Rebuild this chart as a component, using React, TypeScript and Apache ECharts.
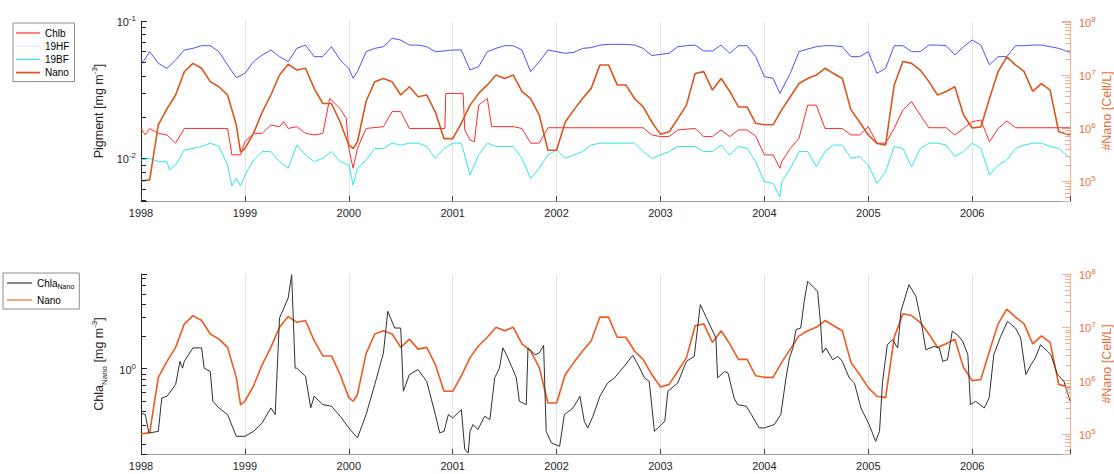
import React, { useEffect, useRef } from 'react';
import * as echarts from 'echarts';

// x = months since January 1998
const yearLabels = ['1998', '1999', '2000', '2001', '2002', '2003', '2004', '2005', '2006'];
const X_MAX = 107.3;

const chlb: [number, number][] = [
  [0, 0.0165], [0.5, 0.0148], [1, 0.0165], [2, 0.0152], [3, 0.0148], [4, 0.0129], [5, 0.0165], [10, 0.0165],
  [10.5, 0.0106], [11.5, 0.0106], [12, 0.0132], [13, 0.0152], [14, 0.0152], [15, 0.0175], [16, 0.017], [16.5, 0.0185],
  [17, 0.0165], [18, 0.017], [19, 0.0152], [20, 0.0148], [21, 0.0152], [21.8, 0.0273], [23, 0.023], [23.7, 0.0196],
  [24, 0.0118], [24.5, 0.00846], [25, 0.0118], [26, 0.0165], [28, 0.017], [29, 0.0219], [30, 0.0219], [31, 0.0165],
  [35.1, 0.0165], [35.2, 0.0297], [37.2, 0.0297], [37.4, 0.0161], [38, 0.0136], [38.5, 0.0132], [39, 0.0244], [40, 0.0273],
  [40.5, 0.017], [43, 0.017], [44, 0.0165], [45, 0.0129], [46, 0.0129], [47, 0.0167], [58, 0.0167], [59, 0.0148],
  [60, 0.0144], [61, 0.0144], [62, 0.0161], [64, 0.0165], [65, 0.0144], [66, 0.0144], [67, 0.0161], [68, 0.0144],
  [69, 0.0161], [70, 0.0161], [71, 0.0145], [72, 0.0106], [73, 0.0106], [73.8, 0.00846], [74, 0.00946], [75, 0.0118],
  [76, 0.014], [77, 0.0244], [78, 0.0244], [79, 0.0165], [81, 0.0165], [82, 0.0148], [83, 0.0148], [84, 0.017],
  [85, 0.0129], [86, 0.0129], [87, 0.0165], [88, 0.0225], [89, 0.0259], [90, 0.0207], [91, 0.0167], [93, 0.0167],
  [94, 0.0148], [95, 0.0165], [96, 0.0185], [97, 0.019], [98, 0.0132], [99, 0.0165], [100, 0.0187], [101, 0.0167],
  [107.3, 0.0167],
];

const hf19: [number, number][] = [
  [0, 0.0479], [1, 0.0598], [2, 0.0492], [3, 0.0452], [4, 0.052], [5, 0.0615], [6, 0.0632], [7, 0.0661], [8, 0.0661],
  [9, 0.0598], [10, 0.0479], [11, 0.0387], [12, 0.0416], [13, 0.0506], [14, 0.0566], [15, 0.0615], [16, 0.055],
  [17, 0.0506], [18, 0.0632], [19, 0.0668], [20, 0.055], [21, 0.055], [22, 0.065], [23, 0.052], [24, 0.0452],
  [24.5, 0.0383], [25, 0.0428], [26, 0.0598], [27, 0.0632], [28, 0.065], [29, 0.0748], [30, 0.0727], [31, 0.0668],
  [32, 0.0668], [33, 0.065], [34, 0.0598], [35, 0.0605], [36, 0.0615], [37, 0.0615], [38, 0.044], [39, 0.0465],
  [40, 0.0598], [41, 0.0632], [42, 0.0661], [43, 0.0661], [44, 0.0615], [45, 0.0428], [46, 0.0506], [47, 0.0615],
  [48, 0.0598], [49, 0.0582], [50, 0.0591], [51, 0.0632], [52, 0.064], [53, 0.0668], [54, 0.0676], [56, 0.0676],
  [57, 0.0668], [58, 0.0632], [59, 0.056], [60, 0.0572], [61, 0.0582], [62, 0.065], [63, 0.0661], [64, 0.0668],
  [65, 0.0605], [66, 0.0605], [67, 0.0668], [68, 0.0582], [69, 0.0661], [70, 0.0661], [71, 0.055], [72, 0.0393],
  [73, 0.0383], [73.8, 0.0297], [74, 0.0315], [75, 0.0416], [76, 0.0598], [77, 0.0625], [78, 0.065], [79, 0.0661],
  [80, 0.0661], [81, 0.065], [82, 0.055], [83, 0.055], [84, 0.0598], [85, 0.0416], [86, 0.0452], [87, 0.0661],
  [88, 0.0661], [89, 0.0598], [90, 0.0598], [91, 0.0668], [92, 0.0668], [93, 0.0661], [94, 0.0566], [95, 0.065],
  [96, 0.0727], [97, 0.0668], [98, 0.0479], [99, 0.055], [100, 0.055], [101, 0.0661], [102, 0.0661], [103, 0.0668],
  [104, 0.0668], [105, 0.065], [106, 0.0632], [107.3, 0.0591],
];

const bf19: [number, number][] = [
  [0, 0.0097], [1, 0.01], [2, 0.00946], [3, 0.00946], [3.3, 0.00822], [4, 0.00894], [5, 0.0115], [6, 0.0118],
  [7, 0.0122], [8, 0.0129], [9, 0.0122], [10, 0.00894], [10.5, 0.0063], [11, 0.00715], [11.5, 0.0063], [12, 0.00756],
  [13, 0.0097], [14, 0.0112], [15, 0.0112], [16, 0.00946], [17, 0.00846], [18, 0.0125], [19, 0.0106], [20, 0.00946],
  [21, 0.01], [22, 0.0112], [23, 0.00946], [24, 0.00894], [24.5, 0.0064], [25, 0.00846], [26, 0.0097], [27, 0.0118],
  [28, 0.0118], [29, 0.0129], [30, 0.0125], [31, 0.0129], [32, 0.0129], [33, 0.0122], [34, 0.01], [35, 0.0118],
  [36, 0.0129], [37, 0.0129], [38, 0.00756], [39, 0.0106], [40, 0.0129], [41, 0.0122], [43, 0.0122], [44, 0.01],
  [45, 0.00715], [46, 0.00846], [47, 0.0106], [48, 0.0115], [49, 0.01], [50, 0.0106], [51, 0.0112], [52, 0.0125],
  [53, 0.0129], [57, 0.0129], [58, 0.0112], [59, 0.01], [60, 0.0106], [61, 0.0112], [62, 0.0122], [64, 0.0122],
  [65, 0.0112], [66, 0.0112], [67, 0.0125], [68, 0.0106], [69, 0.0122], [70, 0.0118], [71, 0.00946], [72, 0.00676],
  [73, 0.00658], [73.8, 0.00526], [74, 0.00676], [75, 0.00846], [76, 0.0112], [77, 0.0112], [78, 0.0087], [79, 0.0112],
  [80, 0.0125], [81, 0.0125], [82, 0.01], [83, 0.0103], [84, 0.00894], [85, 0.00658], [86, 0.008], [87, 0.0122],
  [88, 0.0118], [89, 0.0087], [90, 0.0118], [91, 0.0129], [92, 0.0129], [93, 0.0125], [94, 0.0103], [95, 0.0112],
  [96, 0.0129], [97, 0.0118], [98, 0.00756], [99, 0.00894], [100, 0.0097], [101, 0.0118], [102, 0.0125], [103, 0.0129],
  [104, 0.0129], [105, 0.0122], [106, 0.0118], [107.3, 0.01],
];

const nano: [number, number][] = [
  [0, 1.0e5], [1, 1.05e5], [2, 1.15e6], [3, 2.3e6], [4, 4.2e6], [5, 1.15e7], [6, 1.66e7], [7, 1.34e7], [8, 7.5e6],
  [9, 6.0e6], [10, 4.2e6], [11, 1.15e6], [11.5, 3.5e5], [12, 4.1e5], [13, 8.0e5], [14, 2.0e6], [15, 4.2e6],
  [16, 1.0e7], [17, 1.6e7], [18, 1.24e7], [19, 1.34e7], [20, 5.6e6], [21, 2.9e6], [22, 2.9e6], [23, 1.3e6],
  [24, 4.8e5], [24.5, 4.1e5], [25, 5.5e5], [26, 3.2e6], [27, 7.5e6], [28, 8.6e6], [29, 7.5e6], [30, 4.2e6],
  [31, 6.0e6], [32, 3.9e6], [33, 4.2e6], [34, 2.0e6], [35, 6.3e5], [36, 6.3e5], [37, 1.23e6], [38, 2.7e6],
  [39, 4.5e6], [40, 6.5e6], [41, 1.0e7], [42, 8.6e6], [43, 1.0e7], [44, 4.9e6], [45, 3.6e6], [46, 1.76e6],
  [47, 3.8e5], [48, 3.8e5], [49, 1.3e6], [50, 2.2e6], [51, 3.6e6], [52, 5.6e6], [53, 1.55e7], [54, 1.55e7],
  [55, 6.5e6], [56, 6.5e6], [57, 3.6e6], [58, 2.5e6], [59, 1.3e6], [60, 7.6e5], [61, 8.5e5], [62, 1.5e6],
  [63, 2.7e6], [64, 1.07e7], [65, 1.16e7], [66, 5.2e6], [67, 8.6e6], [68, 4.9e6], [69, 2.5e6], [70, 2.5e6],
  [71, 1.23e6], [72, 1.15e6], [73, 1.15e6], [74, 2.2e6], [75, 3.9e6], [76, 6.9e6], [77, 8.6e6], [78, 1.0e7],
  [79, 1.34e7], [80, 1.07e7], [81, 8.6e6], [82, 2.2e6], [83, 1.3e6], [84, 7.4e5], [85, 5.1e5], [86, 4.8e5],
  [87, 6.5e6], [88, 1.8e7], [89, 1.66e7], [90, 1.24e7], [91, 7.5e6], [92, 4.2e6], [93, 4.9e6], [94, 6.0e6],
  [95, 1.76e6], [96, 1.0e6], [97, 1.05e6], [98, 3.6e6], [99, 1.16e7], [100, 2.2e7], [101, 1.55e7], [102, 1.16e7],
  [103, 4.9e6], [104, 6.9e6], [105, 5.2e6], [106, 8.5e5], [107.3, 7.4e5],
];

const chlaNano: [number, number][] = [
  [0, 0.386], [0.5, 0.373], [0.9, 0.252], [1, 0.252], [2, 0.26], [2.4, 0.533], [3, 0.552], [4, 0.71], [4.5, 1.17],
  [4.8, 1.01], [5, 1.17], [6, 1.56], [7, 1.56], [7.3, 1.01], [8, 0.94], [8.3, 0.496], [9, 0.43], [10, 0.373],
  [11, 0.234], [12, 0.234], [13, 0.26], [14, 0.312], [15, 0.43], [15.5, 0.373], [16, 2.96], [17, 4.55], [17.4, 7.5],
  [17.8, 1.01], [18, 1.01], [19, 0.85], [19.6, 0.43], [20, 0.552], [21, 0.462], [22, 0.446], [23, 0.36], [24, 0.28],
  [25, 0.226], [26, 0.373], [27, 0.71], [28, 1.4], [28.5, 3.42], [29.3, 2.39], [30, 2.39], [30.3, 0.615], [31, 0.88],
  [32, 0.98], [33, 0.76], [34, 0.373], [34.5, 0.252], [35, 0.26], [35.5, 0.373], [36, 0.347], [37, 0.415],
  [37.4, 0.176], [37.8, 0.164], [38, 0.26], [38.35, 0.301], [38.9, 0.27], [39.7, 0.36], [40.3, 0.335], [40.85, 0.82],
  [41.4, 1.01], [41.8, 1.56], [42.2, 1.35], [42.8, 1.05], [43.35, 0.82], [43.7, 0.496], [44.5, 0.462], [44.7, 1.56],
  [45.5, 1.35], [46, 1.4], [46.5, 1.65], [46.8, 0.26], [47.4, 0.203], [48.35, 0.189], [48.9, 0.373], [49.9, 0.43],
  [50.7, 0.552], [51.2, 0.323], [51.6, 0.28], [52.2, 0.36], [53, 0.552], [53.9, 0.735], [54.7, 0.82], [55.8, 1.05],
  [56.8, 1.33], [57.4, 1.09], [58.15, 0.82], [58.7, 0.76], [59.3, 0.26], [60.1, 0.301], [60.5, 0.323], [60.85, 0.615],
  [62, 0.735], [63, 1.17], [63.9, 1.3], [64.6, 3.95], [65.5, 2.76], [66.4, 1.93], [66.6, 0.82], [67.4, 0.94],
  [67.8, 0.91], [68.5, 0.533], [68.9, 0.462], [69.9, 0.446], [70.5, 0.373], [71.4, 0.28], [72, 0.28], [73.15, 0.301],
  [73.9, 0.373], [74.5, 0.82], [74.9, 1.26], [75.3, 1.56], [75.65, 2.31], [76.2, 2.39], [76.6, 4.24], [77, 6.51],
  [78.15, 5.25], [78.5, 2.57], [78.7, 1.4], [79.1, 1.56], [79.9, 1.21], [80.5, 1.3], [81, 1.17], [81.8, 0.82],
  [82.4, 0.735], [83.15, 0.43], [84.1, 0.301], [84.85, 0.21], [85.3, 0.26], [85.65, 0.76], [86.2, 1.67], [86.8, 1.86],
  [87.4, 1.56], [87.77, 3.42], [88.7, 6.06], [89.5, 4.72], [90.1, 2.76], [90.65, 1.5], [91.6, 1.61], [92.2, 1.56],
  [92.6, 1.17], [93.15, 1.21], [93.7, 2.23], [94.3, 2.07], [94.9, 1.8], [95.5, 1.35], [95.8, 0.462], [96.4, 0.496],
  [97.4, 0.43], [97.96, 0.533], [98.5, 1.35], [99.3, 2.0], [100.08, 2.76], [101, 2.39], [101.6, 1.93], [102.2, 0.88],
  [102.8, 1.09], [103.3, 1.26], [103.9, 1.67], [104.7, 1.45], [105.08, 1.35], [105.85, 0.88], [106.6, 0.76],
  [107.3, 0.5],
];

const FONT = "'Liberation Sans', Arial, Helvetica, sans-serif";
const DARK = '#262626';
const ORANGE_TXT = '#e8703f';
const ORANGE_AX = '#f3b091';

const RANGE_TOP_L: [number, number] = [0.00489, 0.1];
const RANGE_R_TOP: [number, number] = [4.2e4, 1.045e8];
const RANGE_BOT_L: [number, number] = [0.16, 7.62];
const RANGE_R_BOT: [number, number] = [4.2e4, 1.0e8];

const THIN_ICON = 'path://M0,0 L24,0 L24,1.2 L0,1.2 Z';
const THICK_ICON = 'path://M0,0 L24,0 L24,1.7 L0,1.7 Z';

function minorValues(r: [number, number]) {
  const out: number[] = [];
  for (let e = Math.floor(Math.log10(r[0])); e <= Math.ceil(Math.log10(r[1])); e++) {
    for (let k = 2; k <= 9; k++) {
      const v = k * Math.pow(10, e);
      if (v >= r[0] && v <= r[1]) out.push(v);
    }
  }
  return out;
}

function tickSeries(gi: number, yi: number, r: [number, number], xAt: number, dir: number, len: number, color: string) {
  return {
    type: 'custom',
    xAxisIndex: gi,
    yAxisIndex: yi,
    silent: true,
    clip: false,
    z: 6,
    data: minorValues(r).map((v) => [xAt, v]),
    encode: { x: 0, y: 1 },
    renderItem: (_p: any, api: any) => {
      const p = api.coord([api.value(0), api.value(1)]);
      const y = Math.round(p[1]) + 0.5;
      return {
        type: 'line',
        shape: { x1: p[0], y1: y, x2: p[0] + dir * len, y2: y },
        style: { stroke: color, lineWidth: 1 },
      };
    },
  };
}

const powLabel = (v: number) => {
  const e = Math.log10(v);
  const r = Math.round(e);
  return Math.abs(e - r) < 1e-4 ? `{b|10}{s|${r}}` : '';
};

const tickRich = (color: string) => ({
  b: { fontSize: 11, lineHeight: 13, verticalAlign: 'bottom', color, fontFamily: FONT },
  s: { fontSize: 8, lineHeight: 9, padding: [0, 0, 7, 0], verticalAlign: 'top', color, fontFamily: FONT },
});

const nameRich = (color: string, lh: number) => ({
  n: { fontSize: 12.5, lineHeight: lh, verticalAlign: 'middle', color, fontFamily: FONT },
  sup: { fontSize: 8, lineHeight: 10, verticalAlign: 'top', color, fontFamily: FONT },
  sub: { fontSize: 8, lineHeight: 10, verticalAlign: 'bottom', color, fontFamily: FONT },
});

function leftAxis(gi: number, r: [number, number], name: string) {
  return {
    type: 'log',
    logBase: 10,
    gridIndex: gi,
    position: 'left',
    min: r[0],
    max: r[1],
    axisLine: { show: true, lineStyle: { color: DARK, width: 1 } },
    axisTick: { show: true, inside: true, length: 6, lineStyle: { color: DARK } },
    axisLabel: { formatter: powLabel, margin: 5, rich: tickRich(DARK) },
    splitLine: { show: false },
    name,
    nameLocation: 'middle',
    nameRotate: 90,
    nameGap: 29,
    nameTextStyle: { rich: nameRich(DARK, 18) },
  };
}

function rightAxis(gi: number, r: [number, number]) {
  return {
    type: 'log',
    logBase: 10,
    gridIndex: gi,
    position: 'right',
    min: r[0],
    max: r[1],
    axisLine: { show: true, lineStyle: { color: ORANGE_AX, width: 1 } },
    axisTick: { show: true, inside: true, length: 8, lineStyle: { color: ORANGE_AX } },
    axisLabel: { formatter: powLabel, margin: 9, rich: tickRich(ORANGE_TXT) },
    splitLine: { show: false },
    name: '{n|#Nano [Cell/L]}',
    nameLocation: 'middle',
    nameRotate: 90,
    nameGap: 30,
    nameMoveOverlap: false,
    nameTextStyle: { rich: nameRich(ORANGE_TXT, 14) },
  };
}

function xAxis(gi: number) {
  return {
    type: 'value',
    gridIndex: gi,
    min: 0,
    max: X_MAX,
    interval: 12,
    axisLine: { show: true, onZero: false, lineStyle: { color: '#9a9a9a' } },
    axisTick: { show: true, inside: true, length: 5, lineStyle: { color: '#404040' } },
    axisLabel: {
      formatter: (v: number) => (Math.abs(v % 12) < 1e-9 ? yearLabels[Math.round(v / 12)] ?? '' : ''),
      color: DARK,
      fontSize: 11,
      fontFamily: FONT,
      margin: 6,
    },
    splitLine: { show: true, lineStyle: { color: '#e3e3e3', width: 1 } },
  };
}

const legendBase = {
  orient: 'vertical',
  backgroundColor: '#ffffff',
  borderColor: '#8c8c8c',
  borderWidth: 1,
  borderRadius: 0,
  itemWidth: 24,
  itemHeight: 12,
  selectedMode: false,
  textStyle: { color: '#000', fontSize: 10, fontFamily: FONT },
};

export default function App() {
  const ref = useRef<HTMLDivElement>(null);
  useEffect(() => {
    if (!ref.current) return;
    const chart = echarts.init(ref.current, undefined, { renderer: 'svg' });
    const line = (name: string, data: [number, number][], gi: number, yi: number, color: string, width: number, z: number) => ({
      name,
      type: 'line',
      xAxisIndex: gi,
      yAxisIndex: yi,
      data,
      symbol: 'none',
      showSymbol: false,
      lineStyle: { color, width },
      itemStyle: { color },
      z,
    });
    chart.setOption({
      animation: false,
      textStyle: { fontFamily: FONT },
      grid: [
        { left: 141, top: 21, width: 929, height: 180, outerBoundsMode: 'none', containLabel: false },
        { left: 141, top: 274, width: 929, height: 180, outerBoundsMode: 'none', containLabel: false },
      ],
      legend: [
        {
          ...legendBase,
          left: 13,
          top: 23,
          padding: [5, 5, 4, 3],
          itemGap: 3.2,
          data: [
            { name: 'Chlb', icon: THIN_ICON },
            { name: '19HF', icon: THIN_ICON, itemStyle: { color: '#e6e6fb' } },
            { name: '19BF', icon: THIN_ICON },
            { name: 'Nano', icon: THICK_ICON },
          ],
        },
        {
          ...legendBase,
          left: 3,
          top: 273,
          padding: [5, 5, 4, 4],
          itemWidth: 25,
          itemGap: 5,
          data: [
            { name: 'ChlaNano', icon: THIN_ICON, itemStyle: { color: '#404040' } },
            { name: 'Nano ', icon: THICK_ICON, itemStyle: { color: '#f59a78' } },
          ],
          formatter: (n: string) => (n === 'ChlaNano' ? '{n|Chla}{sub|Nano}' : '{n|Nano}'),
          textStyle: {
            color: '#000',
            fontSize: 10,
            fontFamily: FONT,
            rich: {
              n: { fontSize: 10, lineHeight: 14, verticalAlign: 'middle', color: '#000', fontFamily: FONT },
              sub: { fontSize: 7, lineHeight: 8, verticalAlign: 'bottom', color: '#000', fontFamily: FONT },
            },
          },
        },
      ],
      xAxis: [xAxis(0), xAxis(1)],
      yAxis: [
        leftAxis(0, RANGE_TOP_L, '{n|Pigment [mg m}{sup|-3}{n|]}'),
        rightAxis(0, RANGE_R_TOP),
        leftAxis(1, RANGE_BOT_L, '{n|Chla}{sub|Nano}{n| [mg m}{sup|-3}{n|]}'),
        rightAxis(1, RANGE_R_BOT),
      ],
      series: [
        line('Chlb', chlb, 0, 0, '#ff2b2b', 1, 3),
        line('19HF', hf19, 0, 0, '#5050f5', 1, 3),
        line('19BF', bf19, 0, 0, '#2ee6ea', 1, 3),
        line('Nano', nano, 0, 1, '#d9571f', 1.6, 4),
        line('Nano ', nano, 1, 3, '#ee5a22', 1.6, 3),
        line('ChlaNano', chlaNano, 1, 2, '#303030', 1, 4),
        tickSeries(0, 0, RANGE_TOP_L, 0, 1, 5, DARK),
        tickSeries(0, 1, RANGE_R_TOP, X_MAX, -1, 5, ORANGE_AX),
        tickSeries(1, 2, RANGE_BOT_L, 0, 1, 5, DARK),
        tickSeries(1, 3, RANGE_R_BOT, X_MAX, -1, 5, ORANGE_AX),
      ],
    });
    return () => chart.dispose();
  }, []);
  return <div ref={ref} style={{ position: 'fixed', left: 0, top: 0, width: 1114, height: 474, background: '#fff' }} />;
}
